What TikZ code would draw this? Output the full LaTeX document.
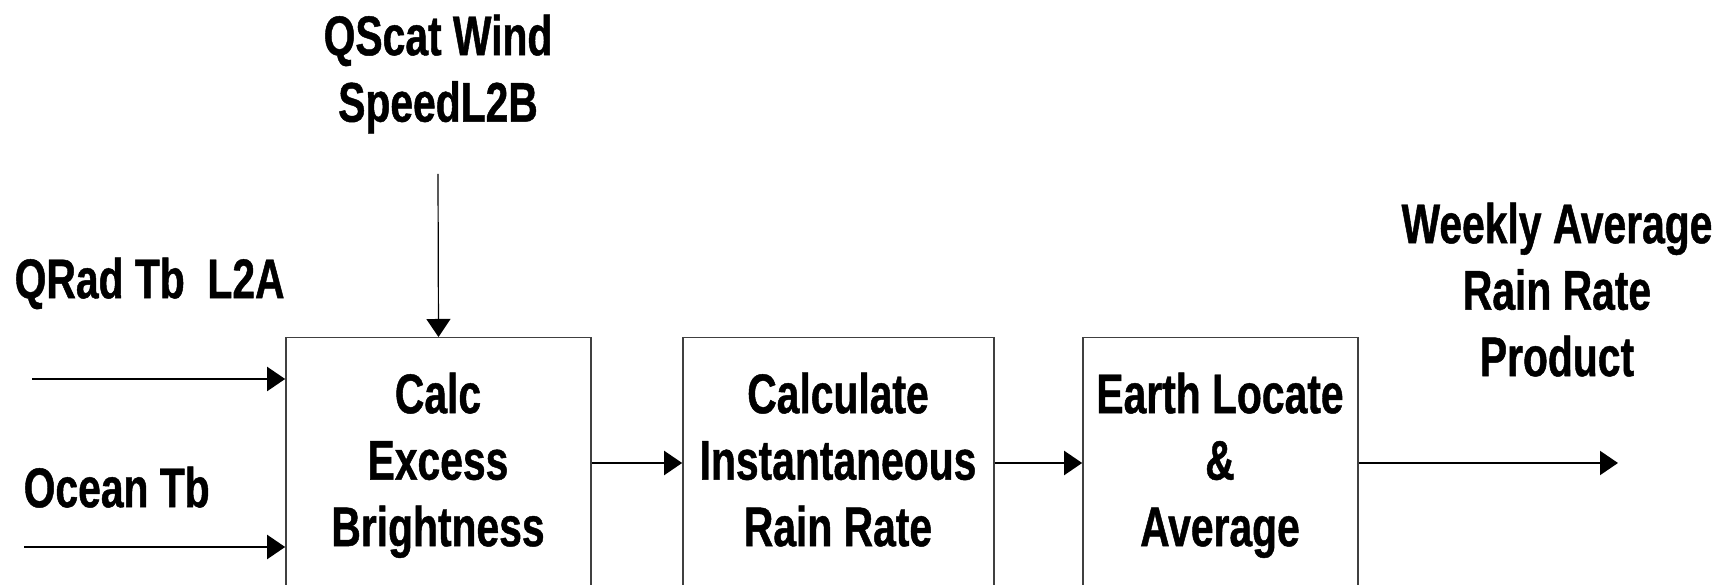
\documentclass[tikz,border=0pt]{standalone}
\usepackage{fontspec}
\newfontfamily\narfont{Liberation Sans}[FakeStretch=0.73,FakeBold=0.8]
\usetikzlibrary{arrows.meta}
\begin{document}
\begin{tikzpicture}[x=0.01cm,y=-0.01cm,
  lbl/.style={font=\narfont\bfseries\fontsize{15.9}{18.9}\selectfont,align=center,inner sep=0pt,anchor=north},
  procbox/.style={draw=black!75,line width=0.015cm,rectangle,inner sep=0pt},
  arr/.style={line width=0.02cm,-{Triangle[length=0.18cm,width=0.24cm]}},
  thinarr/.style={line width=0.012cm,-{Triangle[length=0.18cm,width=0.24cm]}}]
\useasboundingbox (0,0) rectangle (1717,585);
\clip (0,0) rectangle (1717,585);
% boxes (extend past the bottom edge)
\node[procbox,minimum width=3.05cm,minimum height=3.0cm,anchor=north] (b1) at (438.5,337) {};
\node[procbox,minimum width=3.11cm,minimum height=3.0cm,anchor=north] (b2) at (838.5,337) {};
\node[procbox,minimum width=2.75cm,minimum height=3.0cm,anchor=north] (b3) at (1220.5,337) {};
% box texts
\node[lbl] (t1) at (438,372) {Calc\\Excess\\Brightness};
\node[lbl] (t2) at (838,372) {Calculate\\Instantaneous\\Rain Rate};
\node[lbl] (t3) at (1220,372) {Earth Locate\\\&\\Average};
% outside labels
\node[lbl] (qscat) at (438,14) {QScat Wind\\SpeedL2B};
\node[lbl,anchor=north west] (qrad) at (14,257) {QRad Tb\ \ L2A};
\node[lbl,anchor=north west] (ocean) at (23,466) {Ocean Tb};
\node[lbl] (weekly) at (1557,202) {Weekly Average\\Rain Rate\\Product};
% connector endpoints
\coordinate (qsrc) at (438,174);
\coordinate (qrsrc) at (32,379);
\coordinate (ocsrc) at (24,547);
\coordinate (outend) at (1618,463);
% connectors
\draw[thinarr] (qsrc) -- (b1.north);
\draw[arr] (qrsrc) -- (qrsrc -| b1.west);
\draw[arr] (ocsrc) -- (ocsrc -| b1.west);
\draw[arr] (b1.east |- 0,463) -- (b2.west |- 0,463);
\draw[arr] (b2.east |- 0,463) -- (b3.west |- 0,463);
\draw[arr] (b3.east |- 0,463) -- (outend);
\end{tikzpicture}
\end{document}
